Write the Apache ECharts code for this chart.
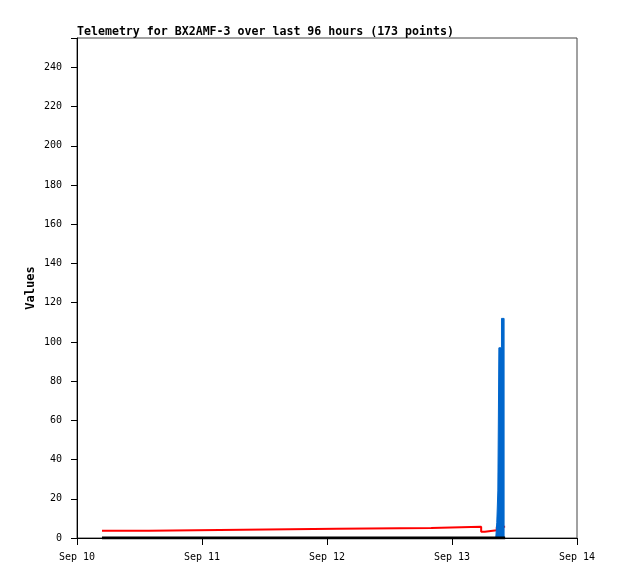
<!DOCTYPE html>
<html>
<head>
<meta charset="utf-8">
<script src="https://cdn.jsdelivr.net/npm/echarts@6/dist/echarts.min.js"></script>
<style>html,body{margin:0;padding:0;background:#fff}#c{width:618px;height:579px}</style>
</head>
<body>
<div id="c"></div>
<script>
// hours since Sep 10 00:00
const xTickLabels = ['Sep 10', 'Sep 11', 'Sep 12', 'Sep 13', 'Sep 14'];
const yTickValues = [0, 20, 40, 60, 80, 100, 120, 140, 160, 180, 200, 220, 240];

const redHours  = [4.8, 13.8, 31.9, 49.9, 68.0, 77.6, 78.3, 80.6, 82.2];
const redValues = [3.7, 4.2, 4.7, 5.1, 5.7, 3.2, 3.9, 5.7, 5.7];

const blueHours  = [80.4, 80.6, 80.8, 81.0, 81.5, 82.0];
const blueValues = [0, 8, 24, 97, 112, 0];

const blackHours  = [4.8, 82.2];
const blackValues = [0, 0];

// build a stepped polyline: each value holds until the next sample
function stepped(xs, ys) {
  const out = [];
  for (let i = 0; i < xs.length; i++) {
    out.push([xs[i], ys[i]]);
    if (i + 1 < xs.length) out.push([xs[i + 1], ys[i]]);
  }
  return out;
}
const pair = (xs, ys) => xs.map((x, i) => [x, ys[i]]);
const mono = 'DejaVu Sans Mono, Liberation Mono, monospace';

const chart = echarts.init(document.getElementById('c'));
chart.setOption({
  animation: false,
  backgroundColor: '#fff',
  title: {
    text: 'Telemetry for BX2AMF-3 over last 96 hours (173 points)',
    left: 72, top: 21,
    textStyle: { fontFamily: mono, fontSize: 11.6, fontWeight: 'bold', color: '#000' }
  },
  grid: { left: 77, top: 38, width: 500, height: 500, show: true, borderColor: '#444', borderWidth: 1, backgroundColor: 'transparent' },
  xAxis: {
    type: 'value', min: 0, max: 96, interval: 24,
    axisLine: { show: true, onZero: false, lineStyle: { color: '#000', width: 1 } },
    axisTick: { show: true, inside: false, length: 7, lineStyle: { color: '#000' } },
    axisLabel: { margin: 14, fontFamily: mono, fontSize: 10, color: '#000',
      formatter: v => xTickLabels[Math.round(v / 24)] || '' },
    splitLine: { show: false }
  },
  yAxis: {
    type: 'value', min: 0, max: 255, interval: 20,
    name: 'Values', nameLocation: 'middle', nameGap: 40, nameRotate: 90, nameMoveOverlap: false,
    nameTextStyle: { fontFamily: mono, fontSize: 12, fontWeight: 'bold', color: '#000' },
    axisLine: { show: true, lineStyle: { color: '#000', width: 1 } },
    axisTick: { show: true, inside: false, length: 6, lineStyle: { color: '#000' } },
    axisLabel: { margin: 15, fontFamily: mono, fontSize: 10, color: '#000',
      formatter: v => yTickValues.indexOf(v) >= 0 ? String(v) : '' },
    splitLine: { show: false }
  },
  series: [
    { type: 'line', data: stepped(redHours, redValues), symbol: 'none',
      lineStyle: { color: '#ff0000', width: 2 }, z: 2 },
    { type: 'line', data: stepped(blueHours, blueValues), symbol: 'none',
      lineStyle: { color: '#0066cc', width: 1 }, areaStyle: { color: '#0066cc', opacity: 1 }, z: 3 },
    { type: 'line', data: pair(blackHours, blackValues), symbol: 'none',
      lineStyle: { color: '#000', width: 3 }, z: 4 }
  ]
});
</script>
</body>
</html>
